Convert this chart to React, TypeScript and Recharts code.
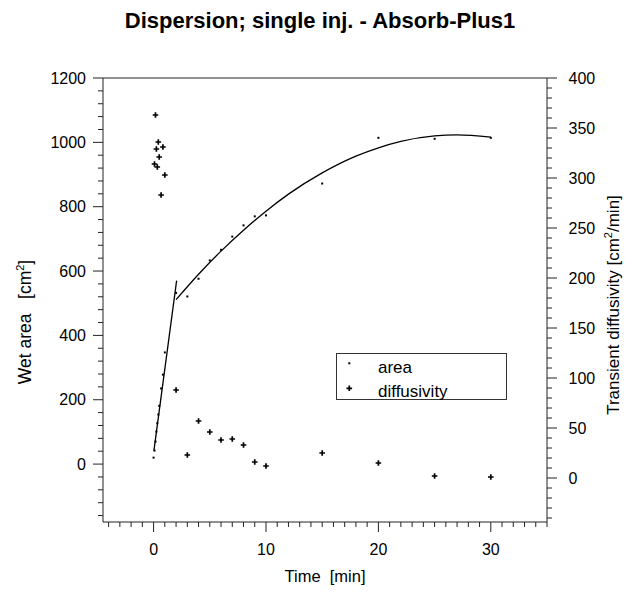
import React from 'react';
import { ComposedChart, Line, Scatter, XAxis, YAxis, ReferenceLine } from 'recharts';

// wet area measurements [cm2] vs time [min]
const areaTime = [0, 0.08, 0.17, 0.25, 0.33, 0.42, 0.5, 0.67, 0.83, 1, 2, 3, 4, 5, 6, 7, 8, 9, 10, 15, 20, 25, 30];
const areaValues = [20, 42, 70, 101, 127, 154, 181, 235, 278, 347, 532, 521, 576, 633, 666, 707, 742, 770, 773, 872, 1014, 1011, 1014];

// transient diffusivity [cm2/min]
const diffTime = [0.08, 0.17, 0.25, 0.33, 0.42, 0.5, 0.67, 0.83, 1, 2, 3, 4, 5, 6, 7, 8, 9, 10, 15, 20, 25, 30];
const diffValues = [314, 363, 329, 311, 336, 321, 283, 331, 303, 88, 23, 57, 46, 38, 39, 33, 16, 12, 25, 15, 2, 1];

// fitted lines
const steepFitTime = [0.03, 2.05];
const steepFitArea = [42, 570];
const curveFitTime = [2, 4, 6, 8, 10, 12, 15, 18, 20, 22, 25, 27, 30];
const curveFitArea = [511, 590, 662, 727, 786, 839, 905, 957, 983, 1003, 1020, 1023, 1016];

// axis ticks
const xMajorTicks = [0, 10, 20, 30];
const leftMajorTicks = [0, 200, 400, 600, 800, 1000, 1200];
const rightMajorTicks = [0, 50, 100, 150, 200, 250, 300, 350, 400];

const range = (from: number, to: number, step: number) => {
    const out: number[] = [];
    for (let i = 0; from + i * step <= to; i++) out.push(from + i * step);
    return out;
};
const xTicks = range(-4, 35, 1);
const leftTicks = range(-160, 1200, 40);
const rightTicks = range(-40, 400, 10);

const FONT = '"Liberation Sans", Arial, Helvetica, sans-serif';
const AXIS = '#222';
const TICK_FONT = 16;

const areaData = areaTime.map((t, i) => ({ t, a: areaValues[i] }));
const diffData = diffTime.map((t, i) => ({ t, d: diffValues[i] }));
const steepFit = steepFitTime.map((t, i) => ({ t, a: steepFitArea[i] }));
const curveFit = curveFitTime.map((t, i) => ({ t, a: curveFitArea[i] }));

const LeftTick = ({ x, y, payload }: any) => {
    const major = leftMajorTicks.includes(payload.value);
    return (
        <g>
            <line x1={x - (major ? 10 : 5)} x2={x} y1={y} y2={y} stroke={AXIS} />
            {major && (
                <text x={x - 17} y={y} dy={5.7} textAnchor="end" fontSize={TICK_FONT} fontFamily={FONT} fill="#000">
                    {payload.value}
                </text>
            )}
        </g>
    );
};

const RightTick = ({ x, y, payload }: any) => {
    const major = rightMajorTicks.includes(payload.value);
    return (
        <g>
            <line x1={x} x2={x + (major ? 10 : 5)} y1={y} y2={y} stroke={AXIS} />
            {major && (
                <text x={x + 21.5} y={y} dy={5.7} textAnchor="start" fontSize={TICK_FONT} fontFamily={FONT} fill="#000">
                    {payload.value}
                </text>
            )}
        </g>
    );
};

const BottomTick = ({ x, y, payload }: any) => {
    const major = xMajorTicks.includes(payload.value);
    return (
        <g>
            <line x1={x} x2={x} y1={y} y2={y + (major ? 10 : 5)} stroke={AXIS} />
            {major && (
                <text x={x} y={y + 33} textAnchor="middle" fontSize={TICK_FONT} fontFamily={FONT} fill="#000">
                    {payload.value}
                </text>
            )}
        </g>
    );
};

const Dot = ({ cx, cy }: any) => <rect x={cx - 1} y={cy - 1} width={2} height={2} fill="#000" />;

const Plus = ({ cx, cy }: any) => (
    <path d={`M${cx - 2.8},${cy}H${cx + 2.8}M${cx},${cy - 2.8}V${cy + 2.8}`} stroke="#000" strokeWidth={1.7} />
);

const sup = { fontSize: 11, position: 'relative' as const, top: -7 };

export default function App() {
    return (
        <div style={{ position: 'relative', margin: -8, width: 632, height: 595, overflow: 'hidden', fontFamily: FONT, color: '#000', background: '#fff' }}>
            <ComposedChart width={632} height={595} margin={{ top: 78, right: 25, bottom: 33, left: 43 }}>
                <XAxis
                    dataKey="t"
                    type="number"
                    domain={[-4.5, 35]}
                    ticks={xTicks}
                    interval={0}
                    allowDataOverflow
                    height={40}
                    tickSize={0}
                    tickMargin={0}
                    tickLine={false}
                    axisLine={{ stroke: AXIS }}
                    tick={(p: any) => <BottomTick {...p} />}
                />
                <YAxis
                    yAxisId="left"
                    orientation="left"
                    type="number"
                    domain={[-180, 1200]}
                    ticks={leftTicks}
                    interval={0}
                    allowDataOverflow
                    width={60}
                    tickSize={0}
                    tickMargin={0}
                    tickLine={false}
                    axisLine={{ stroke: AXIS }}
                    tick={(p: any) => <LeftTick {...p} />}
                />
                <YAxis
                    yAxisId="right"
                    orientation="right"
                    type="number"
                    domain={[-44, 400]}
                    ticks={rightTicks}
                    interval={0}
                    allowDataOverflow
                    width={60}
                    tickSize={0}
                    tickMargin={0}
                    tickLine={false}
                    axisLine={{ stroke: AXIS }}
                    tick={(p: any) => <RightTick {...p} />}
                />
                <ReferenceLine yAxisId="left" y={1200} stroke={AXIS} />
                <Line
                    data={steepFit}
                    dataKey="a"
                    yAxisId="left"
                    type="linear"
                    stroke="#000"
                    strokeWidth={1.3}
                    dot={false}
                    isAnimationActive={false}
                />
                <Line
                    data={curveFit}
                    dataKey="a"
                    yAxisId="left"
                    type="monotone"
                    stroke="#000"
                    strokeWidth={1.3}
                    dot={false}
                    isAnimationActive={false}
                />
                <Scatter data={areaData} dataKey="a" yAxisId="left" shape={(p: any) => <Dot {...p} />} isAnimationActive={false} />
                <Scatter data={diffData} dataKey="d" yAxisId="right" shape={(p: any) => <Plus {...p} />} isAnimationActive={false} />
            </ComposedChart>

            {/* title */}
            <div style={{ position: 'absolute', left: 320, top: 9.5, transform: 'translateX(-50%)', fontSize: 22, lineHeight: '22px', fontWeight: 'bold', whiteSpace: 'nowrap' }}>
                Dispersion; single inj. - Absorb-Plus1
            </div>

            {/* axis titles */}
            <div style={{ position: 'absolute', left: 325, top: 568, transform: 'translateX(-50%)', fontSize: 16.5, lineHeight: '16.5px', whiteSpace: 'pre' }}>
                Time  [min]
            </div>
            <div style={{ position: 'absolute', left: 27, top: 322, transform: 'translate(-50%, -50%) rotate(-90deg)', fontSize: 17.5, lineHeight: '17.5px', whiteSpace: 'pre' }}>
                Wet area   [cm<span style={sup}>2</span>]
            </div>
            <div style={{ position: 'absolute', left: 614, top: 305, transform: 'translate(-50%, -50%) rotate(-90deg)', fontSize: 17, lineHeight: '17px', whiteSpace: 'pre' }}>
                Transient diffusivity [cm<span style={sup}>2</span>/min]
            </div>

            {/* legend */}
            <div style={{ position: 'absolute', left: 336, top: 353, width: 171, height: 47, border: '1px solid #333', boxSizing: 'border-box', background: '#fff' }}>
                <svg width={171} height={47} style={{ position: 'absolute', left: -1, top: -1 }}>
                    <Dot cx={13.3} cy={10.3} />
                    <Plus cx={13.3} cy={35.3} />
                </svg>
                <div style={{ position: 'absolute', left: 41, top: 4.6, fontSize: 17, lineHeight: '17px' }}>area</div>
                <div style={{ position: 'absolute', left: 41, top: 28.6, fontSize: 17, lineHeight: '17px' }}>diffusivity</div>
            </div>
        </div>
    );
}
